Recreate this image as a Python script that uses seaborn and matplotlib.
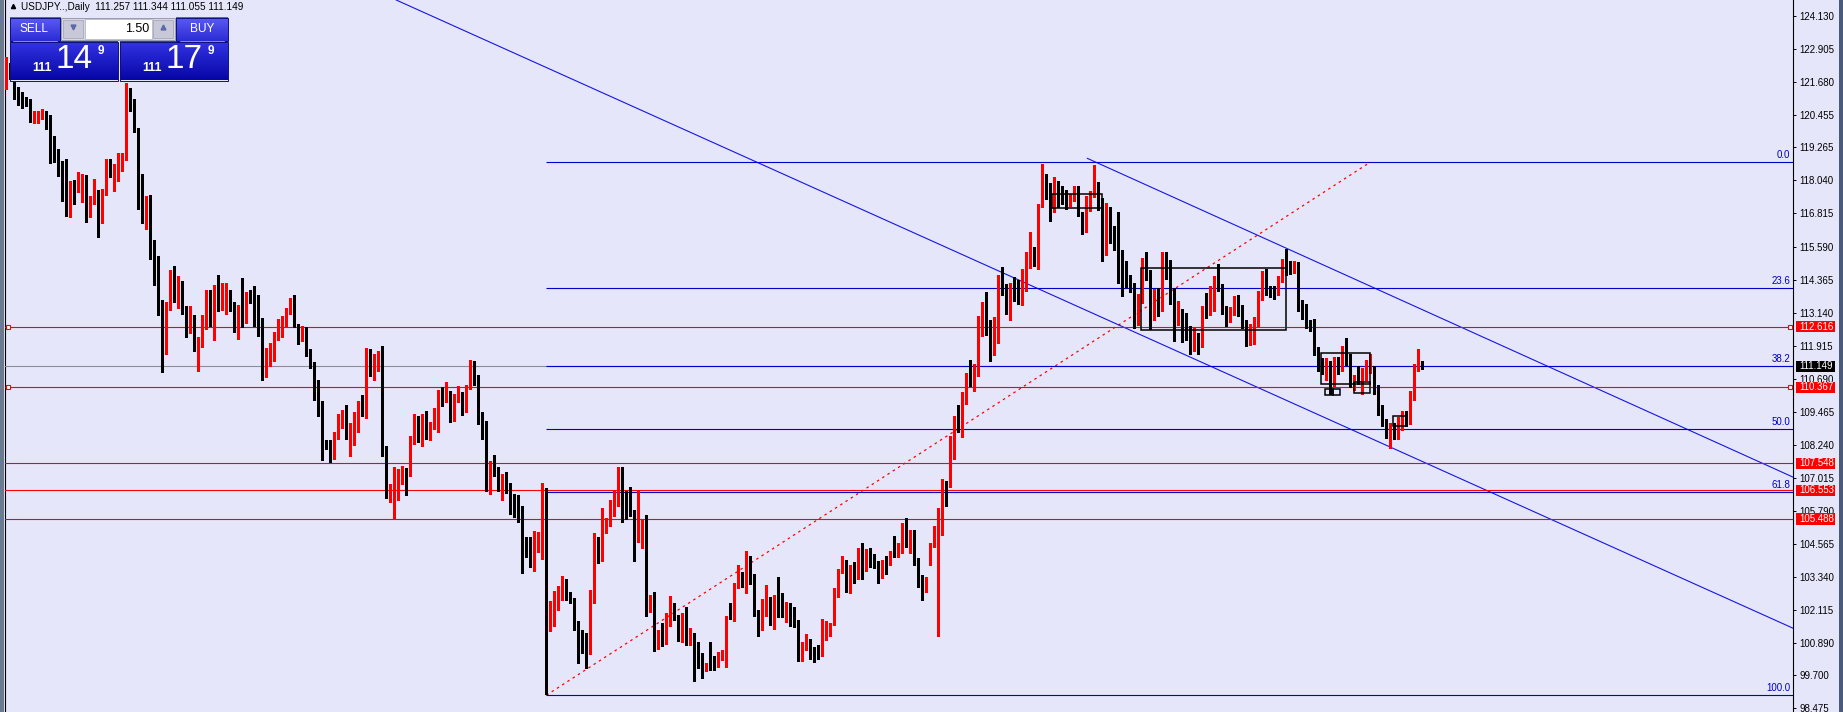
import numpy as np
import pandas as pd
import matplotlib
matplotlib.use("Agg")
import matplotlib.pyplot as plt
import matplotlib.transforms as mtransforms
from matplotlib.patches import Rectangle
import seaborn as sns

# USDJPY daily candles, oldest first
opens = [
    121.66, 122.20, 121.66, 121.24, 121.19, 121.08, 120.94, 120.17, 120.33, 120.46,
    120.52, 120.30, 119.33, 119.11, 118.48, 117.66, 117.18, 117.74, 117.63, 117.66,
    118.03, 116.67, 117.30, 117.63, 116.90, 117.66, 118.66, 118.26, 118.37, 118.63,
    118.79, 121.31, 121.02, 119.96, 117.92, 116.75, 116.85, 115.85, 115.10, 113.36,
    112.36, 113.31, 114.58, 114.03, 114.09, 113.25, 112.54, 112.87, 112.06, 112.16,
    112.96, 113.95, 112.65, 113.99, 113.43, 113.62, 113.92, 113.43, 112.63, 113.31,
    113.15, 113.92, 113.77, 113.17, 112.63, 111.39, 111.49, 111.91, 112.36, 112.36,
    112.75, 113.28, 113.40, 112.69, 112.41, 112.51, 111.58, 111.32, 110.34, 109.72,
    108.24, 108.09, 107.90, 108.58, 109.25, 109.39, 108.15, 108.80, 109.23, 109.72,
    109.41, 111.80, 111.17, 111.24, 111.44, 108.09, 106.27, 106.38, 106.84, 106.99,
    107.27, 107.15, 108.42, 109.31, 108.42, 109.02, 108.61, 108.98, 109.09, 110.20,
    109.93, 110.13, 109.17, 109.96, 110.16, 109.72, 110.34, 111.12, 110.67, 109.46,
    108.83, 106.47, 107.50, 107.31, 106.87, 106.94, 106.79, 106.10, 106.02, 105.97,
    104.32, 104.71, 103.95, 104.71, 104.75, 106.57, 101.82, 101.87, 102.63, 102.83,
    103.27, 102.64, 102.54, 101.71, 101.37, 100.76, 100.51, 102.67, 104.75, 104.34,
    105.30, 105.39, 106.07, 106.10, 107.21, 106.17, 106.17, 105.79, 104.68, 105.26,
    105.27, 102.12, 102.34, 100.88, 101.23, 101.13, 101.68, 102.36, 101.81, 101.13,
    101.89, 101.19, 101.25, 100.24, 100.20, 99.89, 100.61, 100.32, 100.14, 100.41,
    100.48, 101.93, 101.93, 102.94, 103.35, 103.17, 103.87, 103.41, 102.08, 101.68,
    102.39, 102.55, 101.87, 102.51, 102.36, 102.02, 102.24, 101.84, 101.71, 100.38,
    100.75, 101.00, 100.55, 100.72, 100.50, 101.06, 101.27, 101.56, 102.83, 103.50,
    103.97, 103.07, 103.63, 103.50, 104.22, 103.60, 104.28, 103.87, 103.87, 103.33,
    103.97, 103.82, 104.22, 104.16, 104.47, 105.23, 104.49, 104.77, 104.03, 103.29,
    102.93, 104.07, 104.47, 105.15, 105.64, 106.79, 106.84, 108.36, 109.19, 109.04,
    110.09, 110.92, 110.77, 111.14, 112.48, 113.35, 112.81, 111.89, 112.32, 114.46,
    114.09, 113.51, 113.98, 113.92, 113.75, 114.08, 115.28, 115.35, 115.03, 117.12,
    118.13, 117.91, 117.00, 117.83, 117.59, 117.54, 117.24, 117.41, 117.44, 116.75,
    116.46, 116.96, 117.55, 117.76, 117.24, 115.37, 116.96, 115.94, 115.77, 115.40,
    114.54, 114.50, 114.17, 112.70, 113.80, 115.07, 114.60, 113.16, 113.83, 113.25,
    115.12, 115.08, 113.73, 112.76, 113.25, 112.80, 112.60, 111.76, 112.30, 111.96,
    113.24, 113.21, 113.66, 114.28, 114.16, 113.25, 112.88, 113.14, 113.61, 113.33,
    112.62, 112.11, 112.62, 112.74, 113.72, 114.41, 114.02, 113.93, 113.92, 114.33,
    114.99, 114.81, 114.75, 114.85, 113.38, 113.37, 112.69, 112.55, 111.70, 111.17,
    110.96, 111.31, 110.64, 111.06, 111.05, 111.82, 111.39, 110.41, 110.72, 110.70,
    110.80, 111.09, 111.12, 110.38, 109.59, 109.09, 108.60, 108.86, 108.82, 108.92,
    109.31, 109.09, 110.10, 111.05, 111.257,
]
highs = [
    122.60, 122.40, 121.70, 121.51, 121.31, 121.13, 121.04, 120.63, 120.61, 120.67,
    120.61, 120.47, 119.70, 119.21, 118.75, 118.85, 118.03, 118.07, 118.37, 118.28,
    118.24, 117.45, 118.11, 117.70, 117.72, 118.84, 118.84, 118.63, 119.06, 119.04,
    121.66, 121.47, 121.04, 119.99, 118.26, 117.45, 117.51, 115.85, 115.25, 113.59,
    113.54, 114.73, 114.88, 114.51, 114.32, 113.40, 113.40, 113.06, 112.25, 113.06,
    113.99, 113.99, 114.18, 114.55, 114.24, 114.24, 113.96, 113.52, 113.42, 114.42,
    113.92, 113.99, 114.14, 113.80, 112.94, 111.82, 112.01, 112.41, 112.90, 113.00,
    113.31, 113.68, 113.80, 112.73, 112.63, 112.60, 111.79, 111.32, 110.63, 109.88,
    108.42, 108.42, 108.73, 109.39, 109.54, 109.72, 109.04, 109.45, 109.88, 110.09,
    111.81, 111.80, 111.62, 111.73, 111.89, 108.20, 106.79, 107.41, 107.36, 107.46,
    107.37, 108.57, 109.38, 109.31, 109.39, 109.50, 109.08, 109.60, 110.28, 110.38,
    110.58, 110.24, 110.13, 110.43, 110.18, 110.45, 111.40, 111.35, 110.84, 109.46,
    109.13, 107.64, 107.87, 107.43, 107.16, 107.24, 106.82, 106.41, 106.38, 105.97,
    104.84, 104.84, 105.03, 105.02, 106.82, 106.63, 102.46, 102.83, 103.02, 103.38,
    103.27, 102.77, 102.56, 101.71, 101.37, 101.27, 102.86, 104.98, 104.84, 105.89,
    105.52, 106.20, 106.51, 107.43, 107.43, 106.51, 106.67, 105.83, 106.51, 105.45,
    105.64, 102.67, 102.77, 101.37, 101.62, 102.02, 102.65, 102.39, 101.93, 102.02,
    102.24, 101.44, 101.27, 100.94, 100.51, 100.14, 100.94, 100.41, 100.57, 100.63,
    101.90, 102.39, 103.10, 103.79, 103.54, 104.30, 104.12, 103.44, 102.12, 102.51,
    103.04, 102.61, 102.67, 103.35, 102.73, 102.43, 102.36, 102.24, 101.74, 100.94,
    101.22, 101.06, 100.75, 100.82, 101.80, 101.72, 101.65, 102.92, 103.62, 104.12,
    103.97, 103.79, 103.91, 104.40, 104.59, 104.37, 104.40, 104.19, 103.94, 103.97,
    104.12, 104.32, 104.86, 104.61, 105.33, 105.52, 105.08, 105.08, 104.03, 103.41,
    103.33, 104.61, 105.23, 105.89, 106.96, 106.91, 108.55, 109.31, 109.72, 110.18,
    110.92, 111.37, 111.24, 113.00, 113.52, 113.89, 112.88, 112.98, 114.55, 114.83,
    114.20, 114.23, 114.45, 114.34, 114.76, 115.37, 116.11, 115.56, 117.18, 118.66,
    118.28, 117.96, 118.18, 118.01, 117.84, 117.70, 117.52, 117.83, 117.83, 116.86,
    117.46, 117.65, 118.61, 117.98, 117.40, 117.20, 117.05, 116.36, 116.88, 115.47,
    115.05, 114.53, 114.24, 113.83, 115.17, 115.38, 114.71, 114.03, 114.05, 115.37,
    115.38, 115.10, 114.04, 113.56, 113.27, 113.12, 112.66, 112.60, 112.38, 113.39,
    113.86, 114.14, 114.48, 114.95, 114.21, 113.39, 113.34, 113.77, 113.81, 113.43,
    112.87, 112.70, 112.98, 113.94, 114.67, 114.74, 114.14, 114.13, 114.48, 115.12,
    115.51, 115.07, 115.07, 115.02, 113.60, 113.45, 112.88, 112.90, 111.88, 111.47,
    111.46, 111.35, 111.48, 111.49, 111.89, 112.20, 111.60, 110.82, 111.16, 111.08,
    111.39, 111.59, 111.17, 110.44, 109.72, 109.21, 109.05, 109.06, 109.27, 109.50,
    109.49, 110.22, 111.24, 111.78, 111.344,
]
lows = [
    121.41, 121.80, 121.06, 120.83, 120.71, 120.79, 120.21, 120.15, 120.17, 120.33,
    119.96, 118.67, 118.74, 118.22, 117.29, 116.71, 116.67, 117.18, 117.60, 117.25,
    116.49, 116.67, 117.18, 115.93, 116.45, 117.51, 118.17, 117.64, 118.00, 118.38,
    118.79, 120.63, 119.83, 116.99, 116.46, 116.25, 115.13, 114.17, 113.06, 110.93,
    111.61, 113.25, 113.53, 113.32, 113.10, 112.25, 112.39, 111.72, 110.99, 111.86,
    112.53, 112.63, 112.11, 113.19, 113.25, 113.10, 113.19, 112.41, 112.18, 112.60,
    112.75, 113.50, 112.63, 112.28, 110.63, 110.77, 111.17, 111.33, 112.11, 112.23,
    112.60, 113.10, 112.60, 111.99, 112.07, 111.54, 111.08, 109.91, 109.29, 107.66,
    108.09, 107.60, 107.71, 108.46, 108.86, 108.46, 107.81, 108.24, 108.73, 109.29,
    109.23, 110.80, 110.63, 110.99, 107.81, 106.26, 106.11, 105.48, 106.20, 106.78,
    106.38, 107.10, 108.26, 108.33, 108.18, 108.46, 108.42, 108.82, 108.70, 109.69,
    109.81, 109.07, 109.13, 109.83, 109.35, 109.44, 110.32, 110.46, 109.02, 108.46,
    106.54, 106.42, 107.10, 106.51, 106.20, 106.47, 105.68, 105.58, 105.39, 103.50,
    104.07, 103.72, 103.57, 104.28, 104.01, 98.99, 101.35, 101.52, 102.12, 102.49,
    102.49, 102.36, 101.37, 100.16, 100.51, 99.95, 100.48, 102.39, 103.87, 103.95,
    104.99, 105.23, 105.60, 105.97, 105.39, 105.48, 105.60, 103.95, 104.65, 104.43,
    101.89, 102.05, 100.61, 100.69, 100.78, 100.85, 101.52, 101.74, 100.96, 100.94,
    100.82, 100.82, 99.49, 99.95, 99.60, 99.87, 99.89, 99.89, 100.01, 100.26,
    100.01, 101.77, 101.71, 102.92, 102.98, 102.76, 103.08, 101.89, 101.16, 101.37,
    101.89, 101.55, 101.40, 101.87, 101.87, 101.68, 101.52, 101.50, 100.24, 100.24,
    100.63, 100.30, 100.20, 100.30, 100.40, 101.00, 101.15, 101.56, 102.61, 103.50,
    102.80, 102.76, 103.13, 103.25, 103.25, 103.58, 103.72, 103.66, 103.13, 103.29,
    103.45, 103.79, 104.07, 104.07, 104.24, 104.44, 104.24, 103.78, 102.98, 102.49,
    102.80, 103.78, 104.47, 101.15, 104.90, 105.97, 106.67, 107.71, 108.73, 108.52,
    109.76, 110.43, 110.22, 110.80, 112.28, 112.32, 111.33, 111.58, 112.01, 113.80,
    113.08, 112.87, 113.57, 113.46, 113.44, 113.95, 114.78, 114.87, 114.74, 117.06,
    117.35, 116.55, 116.86, 117.07, 117.18, 116.98, 117.08, 117.29, 116.72, 116.04,
    116.12, 116.90, 117.42, 116.95, 115.06, 115.27, 115.71, 115.45, 114.25, 113.75,
    114.09, 113.89, 112.57, 112.67, 113.51, 114.35, 112.53, 112.88, 113.03, 113.20,
    114.40, 113.47, 112.08, 112.67, 112.05, 112.11, 111.59, 111.70, 111.61, 111.88,
    112.93, 113.07, 113.21, 113.93, 113.09, 112.63, 112.81, 113.05, 113.01, 112.57,
    111.91, 111.93, 111.96, 112.65, 113.60, 113.79, 113.71, 113.63, 113.78, 114.27,
    114.55, 114.56, 114.60, 113.19, 112.90, 112.56, 112.47, 111.58, 110.98, 110.85,
    110.66, 110.11, 110.39, 110.86, 110.98, 111.21, 110.38, 110.27, 110.50, 110.12,
    110.66, 110.91, 110.13, 109.35, 108.92, 108.51, 108.13, 108.45, 108.44, 108.80,
    108.93, 109.02, 109.90, 110.98, 111.055,
]
closes = [
    122.20, 121.85, 121.24, 121.16, 121.04, 120.89, 120.26, 120.41, 120.46, 120.55,
    120.17, 119.41, 119.04, 118.44, 117.63, 117.63, 117.74, 117.59, 117.66, 118.07,
    117.00, 117.33, 117.63, 116.90, 117.70, 118.77, 118.26, 118.44, 118.66, 118.81,
    121.13, 120.97, 119.93, 117.85, 116.75, 116.90, 115.81, 115.07, 113.28, 112.39,
    113.25, 114.58, 114.03, 114.09, 113.21, 112.51, 112.91, 112.06, 112.17, 113.00,
    113.87, 112.65, 113.99, 113.43, 113.68, 114.05, 113.43, 112.63, 113.31, 113.15,
    113.68, 113.78, 113.17, 112.60, 111.39, 111.64, 111.95, 112.38, 112.41, 112.80,
    113.10, 113.40, 112.65, 112.41, 112.57, 111.62, 111.29, 110.28, 109.69, 108.20,
    108.14, 107.90, 108.61, 109.29, 109.39, 108.67, 108.82, 109.23, 109.72, 109.41,
    111.62, 111.17, 111.29, 111.44, 108.05, 106.35, 106.38, 106.94, 107.01, 107.27,
    107.10, 108.46, 109.31, 108.42, 109.02, 108.61, 109.02, 109.13, 110.20, 109.91,
    110.18, 109.17, 109.98, 110.16, 109.69, 110.38, 111.12, 110.67, 109.44, 108.79,
    106.57, 107.50, 107.30, 106.84, 106.97, 106.72, 106.10, 105.99, 105.95, 104.28,
    104.19, 103.95, 104.75, 104.80, 106.59, 102.20, 101.87, 102.67, 102.91, 103.27,
    102.49, 102.49, 101.67, 101.35, 100.71, 100.41, 102.71, 104.75, 104.34, 105.31,
    105.42, 106.07, 106.15, 107.21, 106.12, 106.05, 105.75, 104.68, 105.27, 105.29,
    101.97, 102.34, 100.88, 101.23, 101.13, 101.71, 102.36, 101.81, 101.13, 101.89,
    101.17, 101.25, 100.24, 100.16, 99.89, 100.11, 100.26, 100.11, 100.45, 100.53,
    101.78, 101.81, 102.98, 103.66, 103.17, 104.02, 103.38, 102.05, 101.68, 102.39,
    102.67, 101.87, 102.52, 102.30, 101.99, 102.30, 101.78, 101.68, 100.38, 100.75,
    101.06, 100.55, 100.45, 100.50, 101.06, 101.37, 101.60, 102.86, 103.50, 103.97,
    102.89, 103.63, 103.50, 104.22, 103.60, 104.22, 103.82, 103.82, 103.33, 103.93,
    103.75, 104.22, 104.16, 104.47, 105.23, 104.49, 104.74, 104.03, 103.29, 102.92,
    102.98, 104.47, 105.18, 105.64, 106.79, 106.72, 108.40, 109.19, 109.02, 110.13,
    110.63, 110.77, 111.14, 112.48, 113.35, 113.02, 111.89, 112.38, 114.46, 114.09,
    113.51, 113.98, 113.92, 113.75, 114.08, 115.28, 115.35, 115.03, 117.12, 118.13,
    117.91, 117.00, 117.83, 117.59, 117.54, 117.24, 117.41, 117.44, 116.75, 116.46,
    116.96, 117.55, 117.76, 117.24, 115.37, 116.96, 115.94, 115.77, 115.40, 114.54,
    114.50, 114.17, 112.70, 113.80, 115.07, 114.60, 113.16, 113.83, 113.25, 115.12,
    115.08, 113.73, 112.76, 113.25, 112.80, 112.60, 111.76, 112.30, 111.96, 113.24,
    113.21, 113.66, 114.28, 114.16, 113.25, 112.88, 113.14, 113.61, 113.33, 112.62,
    112.11, 112.62, 112.74, 113.72, 114.41, 114.02, 113.93, 113.92, 114.33, 114.99,
    114.81, 114.75, 114.85, 113.38, 113.37, 112.69, 112.55, 111.70, 111.17, 110.96,
    111.31, 110.64, 111.06, 111.05, 111.82, 111.39, 110.41, 110.72, 110.70, 110.80,
    111.09, 111.12, 110.38, 109.59, 109.09, 108.60, 108.86, 108.82, 108.92, 109.31,
    109.09, 110.10, 111.05, 111.26, 111.149,
]

# chart objects
red_levels = [112.616, 110.367, 107.548, 106.553, 105.488]
anchored_levels = [112.616, 110.367]
bid = 111.149
fib_ratios = [0.0, 23.6, 38.2, 50.0, 61.8, 100.0]
fib_top, fib_bottom = 118.72, 98.96
fib_bars = [135, 341]
channel_lower = ([97.4, 446.7], [124.73, 101.44])
channel_upper = ([270.2, 446.7], [118.86, 107.04])
boxes = [  # (first bar, last bar, low, high)
    (261.4, 274.0, 117.03, 117.55),
    (283.7, 320.0, 112.48, 114.79),
    (328.7, 341.0, 110.48, 111.66),
    (329.6, 331.6, 110.09, 110.30),
    (331.6, 333.4, 110.09, 110.30),
    (337.0, 341.0, 110.17, 110.56),
    (346.6, 350.0, 108.95, 109.31),
]
tick_labels = ["124.130", "122.905", "121.680", "120.455", "119.265", "118.040",
               "116.815", "115.590", "114.365", "113.140", "111.915", "110.690",
               "109.465", "108.240", "107.015", "105.790", "104.565", "103.340",
               "102.115", "100.890", "99.700", "98.475"]

sns.set_theme(style="white")
plt.rcParams["font.family"] = ["Liberation Sans", "DejaVu Sans"]

BG = "#E6E6FA"
W, H = 1843, 712
FS = 7.0
fig = plt.figure(figsize=(W / 100, H / 100), dpi=100)
fig.patch.set_facecolor(BG)
ax = fig.add_axes([5 / W, 0, 1788 / W, 1])
ax.set_facecolor(BG)
x_right = 446.65
ax.set_xlim(-0.35, x_right)
ax.set_ylim(98.337, 124.727)

df = pd.DataFrame({"open": opens, "high": highs, "low": lows, "close": closes})
df["bar"] = np.arange(len(df))
colors = np.where(df["close"] >= df["open"], "#FF0000", "#000000")
ax.vlines(df["bar"], df["low"], df["high"], colors=colors, lw=0.75,
          antialiased=False, zorder=4)
body = (df["close"] - df["open"]).abs().clip(lower=0.04)
ax.bar(df["bar"], body, bottom=df[["open", "close"]].min(axis=1), width=0.75,
       color=colors, lw=0, antialiased=False, zorder=5)

# horizontal levels
for p in red_levels:
    ax.axhline(p, color="#FF0000", lw=0.8, zorder=3)
for p in anchored_levels:
    ax.plot([0.5, 445.9], [p, p], ls="none", marker="s", ms=3.2, mfc="white",
            mec="#FF0000", mew=0.8, zorder=6, clip_on=False)
ax.axhline(bid, color="#8C8C99", lw=0.8, zorder=3)

# fibonacci retracement
blend = mtransforms.blended_transform_factory(ax.transAxes, ax.transData)
for r in fib_ratios:
    p = fib_top - (fib_top - fib_bottom) * r / 100
    ax.hlines(p, fib_bars[0], x_right, color="#0000CD", lw=0.8, zorder=3)
    ax.text(0.9985, p + 0.07, f"{r:.1f}", transform=blend, ha="right", va="bottom",
            fontsize=FS, color="#0000CD", zorder=6)
sns.lineplot(x=fib_bars, y=[fib_bottom, fib_top], color="#FF0000", lw=0.9, ax=ax)
ax.lines[-1].set_linestyle((0, (2, 3)))

# channel
for xs, ys in (channel_lower, channel_upper):
    sns.lineplot(x=xs, y=ys, color="#1515E8", lw=0.8, ax=ax)

for b0, b1, lo, hi in boxes:
    ax.add_patch(Rectangle((b0, lo), b1 - b0, hi - lo, fill=False, ec="black",
                           lw=1.1, zorder=6))

# price axis
ax.yaxis.tick_right()
ax.set_yticks([float(t) for t in tick_labels])
ax.set_yticklabels(tick_labels)
ax.set_xticks([])
ax.tick_params(axis="y", right=True, length=2.2, width=0.7, pad=2.4,
               labelsize=FS, colors="black")
for side in ("top", "bottom"):
    ax.spines[side].set_visible(False)
for side in ("left", "right"):
    ax.spines[side].set_color("black")
    ax.spines[side].set_linewidth(0.8)

px = 1 / 1788
for p, fc in [(p, "#FF0000") for p in red_levels] + [(bid, "#000000")]:
    ax.add_patch(Rectangle((1 + 3.5 * px, p - 0.21), 38 * px, 0.42, transform=blend,
                           fc=fc, ec="none", clip_on=False, zorder=8))
    ax.text(1 + 6.0 * px, p, f"{p:.3f}", transform=blend, ha="left", va="center",
            fontsize=FS, color="white", zorder=9, clip_on=False)

# overlay in pixel coordinates for the trade panel and window edges
ov = fig.add_axes([0, 0, 1, 1], zorder=10)
ov.patch.set_alpha(0)
ov.axis("off")


def gradient(x0, x1, y0, y1, top, bottom):
    c0 = np.array(matplotlib.colors.to_rgb(top))
    c1 = np.array(matplotlib.colors.to_rgb(bottom))
    t = np.linspace(0, 1, 64)[:, None, None]
    img = c0 * (1 - t) + c1 * t
    ov.imshow(img, extent=(x0, x1, y1, y0), aspect="auto", interpolation="bilinear",
              zorder=2)
    ov.add_patch(Rectangle((x0, y0), x1 - x0, y1 - y0, fill=False, ec="#10107A",
                           lw=0.7, zorder=3))


gradient(9.5, 60, 17.5, 41, "#5C5CF2", "#2C2CD6")
gradient(176, 227.5, 17.5, 41, "#5C5CF2", "#2C2CD6")
gradient(9.5, 117.5, 41.5, 80.5, "#3434E4", "#0606A6")
gradient(120, 227.5, 41.5, 80.5, "#3434E4", "#0606A6")
ov.add_patch(Rectangle((61, 17.5), 114, 22.5, fc="#D8D8E4", ec="#9A9AB0", lw=0.7, zorder=2))
ov.add_patch(Rectangle((85, 19), 67, 19.5, fc="white", ec="#B0B0C0", lw=0.5, zorder=3))
ov.add_patch(Rectangle((63, 19.5), 20, 18.5, fc="#C8C8D8", ec="#A0A0B8", lw=0.5, zorder=3))
ov.add_patch(Rectangle((153, 19.5), 20, 18.5, fc="#C8C8D8", ec="#A0A0B8", lw=0.5, zorder=3))
ov.plot([73], [27], marker="v", ms=3.5, color="#5A6AA8", zorder=4)
ov.plot([163], [27], marker="^", ms=3.5, color="#5A6AA8", zorder=4)
ov.plot([13, 57], [41, 41], color="#9C9CF0", lw=0.6, zorder=4)
ov.plot([180, 224], [41, 41], color="#9C9CF0", lw=0.6, zorder=4)
txt = dict(color="white", ha="center", va="center", zorder=5)
ov.text(34.5, 29.5, "SELL", fontsize=8.6, **txt)
ov.text(202, 29.5, "BUY", fontsize=8.6, **txt)
ov.text(149, 29, "1.50", fontsize=9, color="black", ha="right", va="center", zorder=5)
for x_small, x_big, x_sup, big in [(42, 74.5, 101, "14"), (152, 184.5, 211, "17")]:
    ov.text(x_small, 67.8, "111", fontsize=9, fontweight="bold", **txt)
    ov.text(x_big, 59.5, big, fontsize=24, **txt)
    ov.text(x_sup, 51.5, "9", fontsize=8.5, fontweight="bold", **txt)
ov.plot([13], [6], marker="^", ms=3, color="black", zorder=5)
ov.text(21, 6.5, "USDJPY..,Daily  111.257 111.344 111.055 111.149", fontsize=7.2,
        color="black", ha="left", va="center", zorder=5)
ov.add_patch(Rectangle((0, 0), 3.5, H, fc="#6B7A8F", ec="none", zorder=5))
ov.add_patch(Rectangle((1838.5, 0), 4.5, H, fc="#4A5A78", ec="none", zorder=5))
ov.set_xlim(0, W)
ov.set_ylim(H, 0)

fig.savefig("out.png", dpi=100, facecolor=BG)
